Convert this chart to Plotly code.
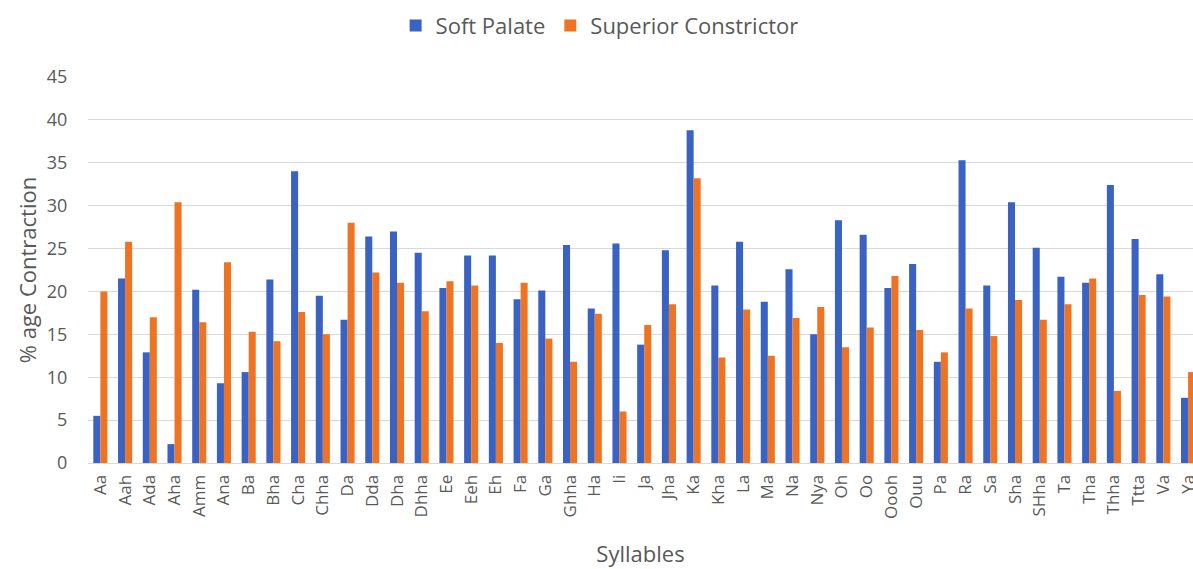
import plotly.graph_objects as go

syllables = ["Aa", "Aah", "Ada", "Aha", "Amm", "Ana", "Ba", "Bha", "Cha", "Chha",
             "Da", "Dda", "Dha", "Dhha", "Ee", "Eeh", "Eh", "Fa", "Ga", "Ghha",
             "Ha", "Ii", "Ja", "Jha", "Ka", "Kha", "La", "Ma", "Na", "Nya",
             "Oh", "Oo", "Oooh", "Ouu", "Pa", "Ra", "Sa", "Sha", "SHha", "Ta",
             "Tha", "Thha", "Ttta", "Va", "Ya"]

soft_palate = [5.5, 21.5, 12.9, 2.2, 20.2, 9.3, 10.6, 21.4, 34.0, 19.5,
               16.7, 26.4, 27.0, 24.5, 20.4, 24.2, 24.2, 19.1, 20.1, 25.4,
               18.0, 25.6, 13.8, 24.8, 38.8, 20.7, 25.8, 18.8, 22.6, 15.0,
               28.3, 26.6, 20.4, 23.2, 11.8, 35.3, 20.7, 30.4, 25.1, 21.7,
               21.0, 32.4, 26.1, 22.0, 7.6]

superior_constrictor = [20.0, 25.8, 17.0, 30.4, 16.4, 23.4, 15.3, 14.2, 17.6, 15.0,
                        28.0, 22.2, 21.0, 17.7, 21.2, 20.7, 14.0, 21.0, 14.5, 11.8,
                        17.4, 6.0, 16.1, 18.5, 33.2, 12.3, 17.9, 12.5, 16.9, 18.2,
                        13.5, 15.8, 21.8, 15.5, 12.9, 18.0, 14.8, 19.0, 16.7, 18.5,
                        21.5, 8.4, 19.6, 19.4, 10.6]

y_ticks = [0, 5, 10, 15, 20, 25, 30, 35, 40, 45]

fig = go.Figure()
fig.add_trace(go.Bar(x=syllables, y=soft_palate, name="Soft Palate",
                     marker=dict(color="#3A62C2", line=dict(width=0))))
fig.add_trace(go.Bar(x=syllables, y=superior_constrictor, name="Superior Constrictor",
                     marker=dict(color="#EE7424", line=dict(width=0))))

fig.update_layout(
    width=1193, height=569,
    paper_bgcolor="white", plot_bgcolor="white",
    barmode="group", bargap=0.43, bargroupgap=0,
    margin=dict(l=88, r=0, t=77, b=106, autoexpand=False),
    font=dict(family="Open Sans, Liberation Sans, sans-serif", color="#595959"),
    legend=dict(orientation="h", x=0.463, xanchor="center",
                yref="container", y=0.955, yanchor="middle",
                font=dict(size=22, color="#595959"),
                traceorder="normal"),
    xaxis=dict(
        range=[-0.5, 44.2],
        tickangle=-90, tickfont=dict(size=17, color="#595959"),
        showgrid=False, showline=True, linecolor="#D9D9D9", linewidth=1,
        ticks="outside", ticklen=4, tickcolor="rgba(0,0,0,0)",
        title=dict(text="Syllables", font=dict(size=22, color="#595959"),
                   standoff=28),
    ),
    yaxis=dict(
        range=[0, 45], tickvals=y_ticks,
        tickfont=dict(size=18, color="#595959"),
        showgrid=True, gridcolor="#D9D9D9", gridwidth=1,
        zeroline=False, showline=False,
        ticks="outside", ticklen=16, tickcolor="rgba(0,0,0,0)",
        title=dict(text="% age Contraction", font=dict(size=22, color="#595959"),
                   standoff=4),
    ),
)

fig.write_html("out.html", config={"displayModeBar": False},
               post_script="document.body.style.margin='0';")
